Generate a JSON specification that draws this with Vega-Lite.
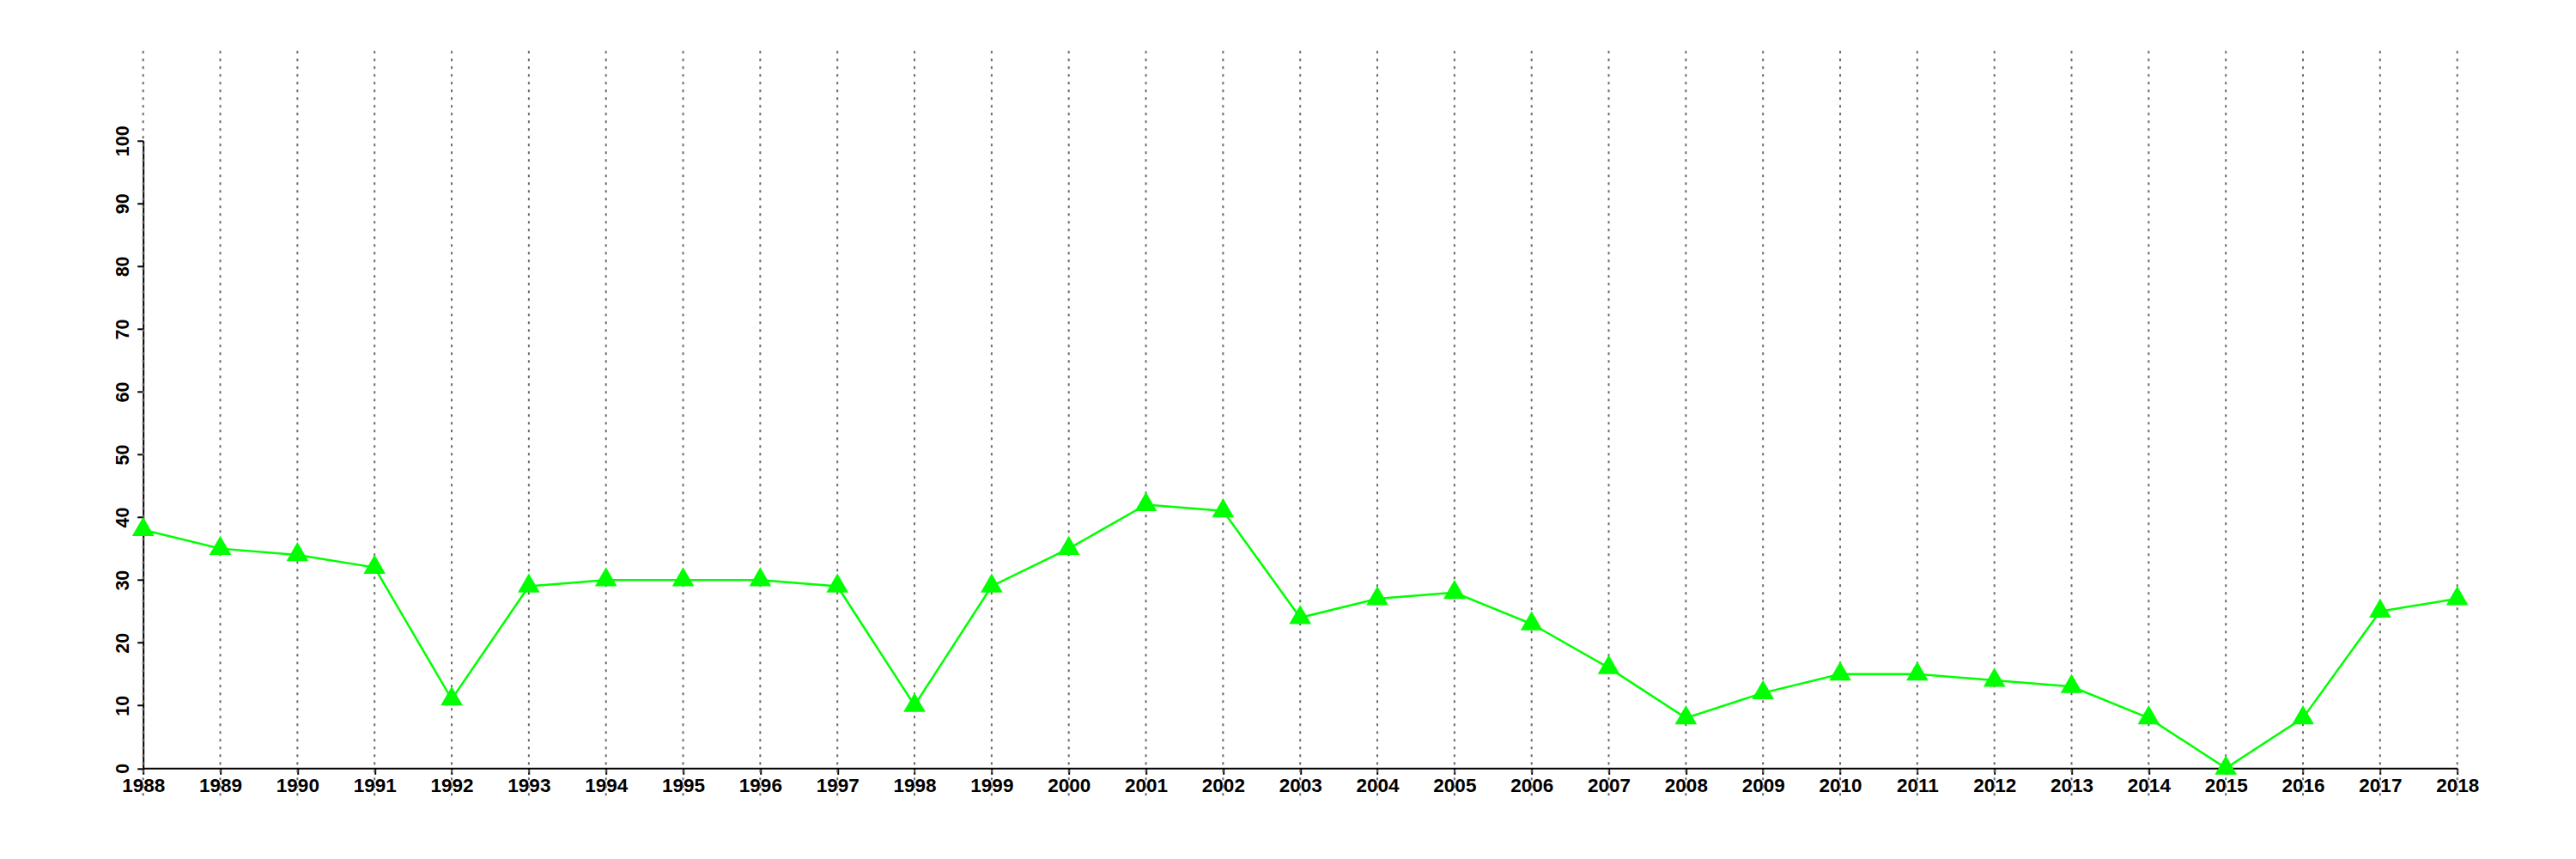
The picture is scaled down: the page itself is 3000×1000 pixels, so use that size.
{
  "$schema": "https://vega.github.io/schema/vega-lite/v6.json",
  "autosize": {"type": "none"},
  "width": 2695,
  "height": 730.5,
  "padding": {"left": 166.7, "top": 163.8, "right": 138.3, "bottom": 105.7},
  "background": "white",
  "config": {
    "view": {"stroke": null},
    "font": "Liberation Sans",
    "axis": {
      "labelFont": "Liberation Sans",
      "labelFontWeight": "bold",
      "labelFontSize": 21.5,
      "labelColor": "black",
      "domainColor": "black",
      "domainWidth": 2,
      "tickColor": "black",
      "tickWidth": 2,
      "tickSize": 7,
      "grid": false,
      "title": null
    }
  },
  "data": {
    "values": [
      {"year": 1988, "value": 38},
      {"year": 1989, "value": 35},
      {"year": 1990, "value": 34},
      {"year": 1991, "value": 32},
      {"year": 1992, "value": 11},
      {"year": 1993, "value": 29},
      {"year": 1994, "value": 30},
      {"year": 1995, "value": 30},
      {"year": 1996, "value": 30},
      {"year": 1997, "value": 29},
      {"year": 1998, "value": 10},
      {"year": 1999, "value": 29},
      {"year": 2000, "value": 35},
      {"year": 2001, "value": 42},
      {"year": 2002, "value": 41},
      {"year": 2003, "value": 24},
      {"year": 2004, "value": 27},
      {"year": 2005, "value": 28},
      {"year": 2006, "value": 23},
      {"year": 2007, "value": 16},
      {"year": 2008, "value": 8},
      {"year": 2009, "value": 12},
      {"year": 2010, "value": 15},
      {"year": 2011, "value": 15},
      {"year": 2012, "value": 14},
      {"year": 2013, "value": 13},
      {"year": 2014, "value": 8},
      {"year": 2015, "value": 0},
      {"year": 2016, "value": 8},
      {"year": 2017, "value": 25},
      {"year": 2018, "value": 27}
    ]
  },
  "layer": [
    {
      "mark": {"type": "rule", "color": "#6a6a6a", "strokeWidth": 2, "strokeDash": [3, 6], "clip": false},
      "encoding": {
        "x": {"field": "year", "type": "quantitative", "scale": {"domain": [1988, 2018], "nice": false, "zero": false}},
        "y": {"datum": 114.3, "type": "quantitative"},
        "y2": {"datum": -4.5}
      }
    },
    {
      "mark": {"type": "line", "color": "#00FF00", "strokeWidth": 2.5},
      "encoding": {
        "x": {"field": "year", "type": "quantitative"},
        "y": {"field": "value", "type": "quantitative"}
      }
    },
    {
      "mark": {"type": "point", "filled": true, "opacity": 1, "color": "#00FF00", "shape": "M0,-1.155L1,0.577L-1,0.577Z", "size": 660},
      "encoding": {
        "x": {
          "field": "year", "type": "quantitative",
          "scale": {"domain": [1988, 2018], "nice": false, "zero": false},
          "axis": {
            "values": [1988,1989,1990,1991,1992,1993,1994,1995,1996,1997,1998,1999,2000,2001,2002,2003,2004,2005,2006,2007,2008,2009,2010,2011,2012,2013,2014,2015,2016,2017,2018],
            "format": "d",
            "labelPadding": 2,
            "labelBaseline": "top",
            "labelOverlap": false,
            "labelFontSize": 22.5,
            "labelFlush": false
          }
        },
        "y": {
          "field": "value", "type": "quantitative",
          "scale": {"domain": [0, 100], "nice": false, "zero": true},
          "axis": {
            "values": [0,10,20,30,40,50,60,70,80,90,100],
            "labelAngle": 270,
            "labelAlign": "center",
            "labelBaseline": "alphabetic",
            "labelPadding": 10,
            "labelOverlap": false,
            "labelFlush": false
          }
        }
      }
    }
  ]
}
